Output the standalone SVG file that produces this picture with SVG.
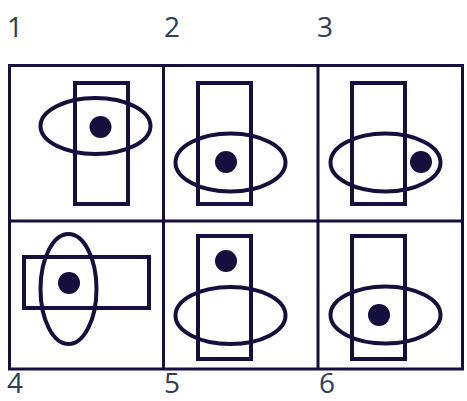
<svg xmlns="http://www.w3.org/2000/svg" width="467" height="401" viewBox="0 0 467 401">
<style>
.ln{fill:none;stroke:#140f3c;stroke-width:4}
.grid{fill:none;stroke:#140f3c;stroke-width:3}
.dot{fill:#140f3c}
.lbl{font-family:"Open Sans","DejaVu Sans",sans-serif;font-size:28px;fill:#2f3d58}
</style>
<rect width="467" height="401" fill="#fff"/>
<g id="grid">
<rect class="grid" x="9.5" y="65.5" width="453" height="303.5"/>
<line class="grid" x1="163.5" y1="65" x2="163.5" y2="369"/>
<line class="grid" x1="318" y1="65" x2="318" y2="369"/>
<line class="grid" x1="9" y1="221" x2="463" y2="221"/>
</g>
<g id="panel1">
<rect class="ln" x="75" y="83" width="53" height="121"/>
<ellipse class="ln" cx="95.5" cy="126" rx="55" ry="28"/>
<circle class="dot" cx="100.5" cy="127" r="11"/>
</g>
<g id="panel2">
<rect class="ln" x="198" y="83" width="53" height="121"/>
<ellipse class="ln" cx="230.5" cy="162.5" rx="55" ry="29"/>
<circle class="dot" cx="226" cy="162" r="11"/>
</g>
<g id="panel3">
<rect class="ln" x="352" y="83" width="53" height="121"/>
<ellipse class="ln" cx="385.5" cy="162.5" rx="55" ry="29"/>
<circle class="dot" cx="421" cy="162" r="11"/>
</g>
<g id="panel4">
<rect class="ln" x="24" y="257" width="125" height="51"/>
<ellipse class="ln" cx="68.5" cy="289" rx="28" ry="55"/>
<circle class="dot" cx="69" cy="283" r="11"/>
</g>
<g id="panel5">
<rect class="ln" x="198" y="236" width="53" height="123"/>
<ellipse class="ln" cx="230.5" cy="315.5" rx="55" ry="28.5"/>
<circle class="dot" cx="226" cy="261" r="11"/>
</g>
<g id="panel6">
<rect class="ln" x="352" y="236" width="53" height="123"/>
<ellipse class="ln" cx="385.5" cy="315" rx="55" ry="28.5"/>
<circle class="dot" cx="379" cy="315" r="11"/>
</g>
<g id="labels">
<text class="lbl" x="7" y="37">1</text>
<text class="lbl" x="164" y="37">2</text>
<text class="lbl" x="317" y="37">3</text>
<text class="lbl" x="7" y="393">4</text>
<text class="lbl" x="164" y="393">5</text>
<text class="lbl" x="319" y="393">6</text>
</g>
</svg>
